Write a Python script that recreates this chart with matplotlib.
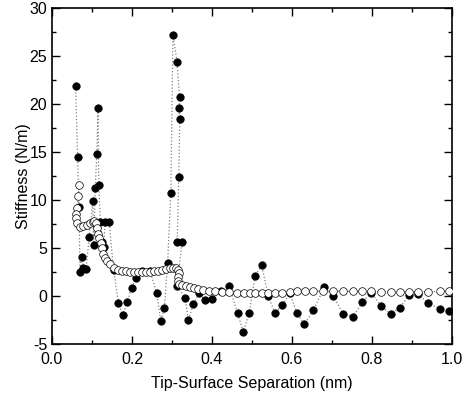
import matplotlib
matplotlib.use("Agg")
import matplotlib.pyplot as plt
from matplotlib.ticker import MultipleLocator

plt.rcParams['font.family'] = ['Liberation Sans', 'DejaVu Sans']
plt.rcParams['axes.unicode_minus'] = False

# Filled circles series
fx = [0.059, 0.064, 0.0675, 0.070, 0.074, 0.078, 0.085, 0.093, 0.102, 0.104,
      0.108, 0.112, 0.115, 0.117, 0.121, 0.126, 0.129, 0.133, 0.143, 0.154,
      0.166, 0.177, 0.188, 0.199, 0.210, 0.226, 0.245, 0.262, 0.272, 0.281,
      0.289, 0.297, 0.3025, 0.3125, 0.319, 0.318, 0.3195, 0.317, 0.313, 0.325,
      0.313, 0.3325, 0.341, 0.353, 0.3675, 0.3825, 0.401, 0.4225, 0.443, 0.464,
      0.478, 0.493, 0.5075, 0.524, 0.541, 0.5575, 0.576, 0.595, 0.612, 0.631,
      0.653, 0.681, 0.703, 0.728, 0.753, 0.776, 0.798, 0.822, 0.847, 0.870,
      0.893, 0.916, 0.941, 0.970, 0.9925]
fy = [21.9, 14.5, 9.3, 2.5, 4.1, 2.9, 2.8, 6.1, 9.9, 5.3,
      11.2, 14.8, 19.6, 11.6, 7.7, 5.65, 5.1, 7.7, 7.7, 2.7,
      -0.76, -2.0, -0.66, 0.87, 1.9, 2.6, 2.6, 0.28, -2.6, -1.2,
      3.4, 10.7, 27.2, 24.4, 20.7, 19.6, 18.4, 12.4, 5.6, 5.6,
      1.04, -0.2, -2.5, -0.87, 0.28, -0.45, -0.35, 0.55, 1.04, -1.8,
      -3.7, -1.8, 2.1, 3.2, 0.0, -1.8, -0.94, 0.28, -1.8, -2.95,
      -1.5, 0.9, 0.05, -1.9, -2.15, -0.66, 0.35, -1.0, -1.9, -1.2,
      0.1, 0.17, -0.76, -1.35, -1.56]

# Open circles series
ox = [0.068, 0.066, 0.063, 0.059, 0.059, 0.063, 0.070, 0.078, 0.087, 0.095,
      0.102, 0.106, 0.109, 0.113, 0.116, 0.118, 0.122, 0.124, 0.128, 0.1325,
      0.137, 0.145, 0.156, 0.166, 0.176, 0.186, 0.196, 0.206, 0.216, 0.226,
      0.236, 0.246, 0.256, 0.266, 0.276, 0.286, 0.295, 0.303, 0.310, 0.314,
      0.317, 0.316, 0.314, 0.318, 0.326, 0.334, 0.345, 0.355, 0.365, 0.378,
      0.392, 0.408, 0.425, 0.443, 0.463, 0.48, 0.495, 0.5075, 0.524, 0.541,
      0.5575, 0.574, 0.595, 0.613, 0.6325, 0.653, 0.678, 0.703, 0.728, 0.753,
      0.776, 0.798, 0.822, 0.847, 0.87, 0.893, 0.916, 0.941, 0.97, 0.9925]
oy = [11.6, 10.4, 9.2, 8.5, 8.1, 7.6, 7.2, 7.3, 7.4, 7.6,
      7.75, 7.85, 7.6, 7.05, 6.5, 6.0, 5.5, 5.0, 4.4, 4.0,
      3.65, 3.3, 2.95, 2.75, 2.65, 2.6, 2.55, 2.5, 2.45, 2.45,
      2.45, 2.5, 2.6, 2.65, 2.75, 2.8, 2.9, 2.95, 2.9, 2.7,
      2.4, 2.0, 1.6, 1.3, 1.15, 1.05, 0.95, 0.85, 0.75, 0.65,
      0.55, 0.5, 0.45, 0.42, 0.35, 0.3, 0.28, 0.28, 0.28, 0.28,
      0.3, 0.35, 0.42, 0.47, 0.5, 0.5, 0.5, 0.5, 0.5, 0.48,
      0.47, 0.47, 0.45, 0.45, 0.45, 0.45, 0.45, 0.45, 0.47, 0.5]

fig = plt.figure(figsize=(4.63, 4.0), dpi=100)
ax = fig.add_axes([0.1123, 0.14, 0.8639, 0.84])

ax.plot(fx, fy, linestyle=':', color='#808080', linewidth=0.9,
        marker='o', markersize=5.3, markerfacecolor='black',
        markeredgecolor='black', markeredgewidth=0.6, zorder=2)
ax.plot(ox, oy, linestyle=':', color='#808080', linewidth=0.9,
        marker='o', markersize=5.5, markerfacecolor='white',
        markeredgecolor='black', markeredgewidth=0.5, zorder=3)

ax.set_xlim(0.0, 1.0)
ax.set_ylim(-5, 30)
ax.xaxis.set_major_locator(MultipleLocator(0.2))
ax.xaxis.set_minor_locator(MultipleLocator(0.1))
ax.yaxis.set_major_locator(MultipleLocator(5))
ax.yaxis.set_minor_locator(MultipleLocator(2.5))
ax.set_xticklabels([f"{v:.1f}" for v in ax.get_xticks()])
ax.tick_params(which='both', direction='in', top=True, right=True,
               labelsize=11.5, width=1.0)
ax.tick_params(which='major', length=6)
ax.tick_params(which='minor', length=3)
ax.tick_params(axis='x', which='major', pad=6)
for s in ax.spines.values():
    s.set_linewidth(1.2)

ax.set_xlabel('Tip-Surface Separation (nm)', fontsize=11.5, labelpad=6)
ax.set_ylabel('Stiffness (N/m)', fontsize=11.5, labelpad=-1)

fig.savefig('out.png', dpi=100)
